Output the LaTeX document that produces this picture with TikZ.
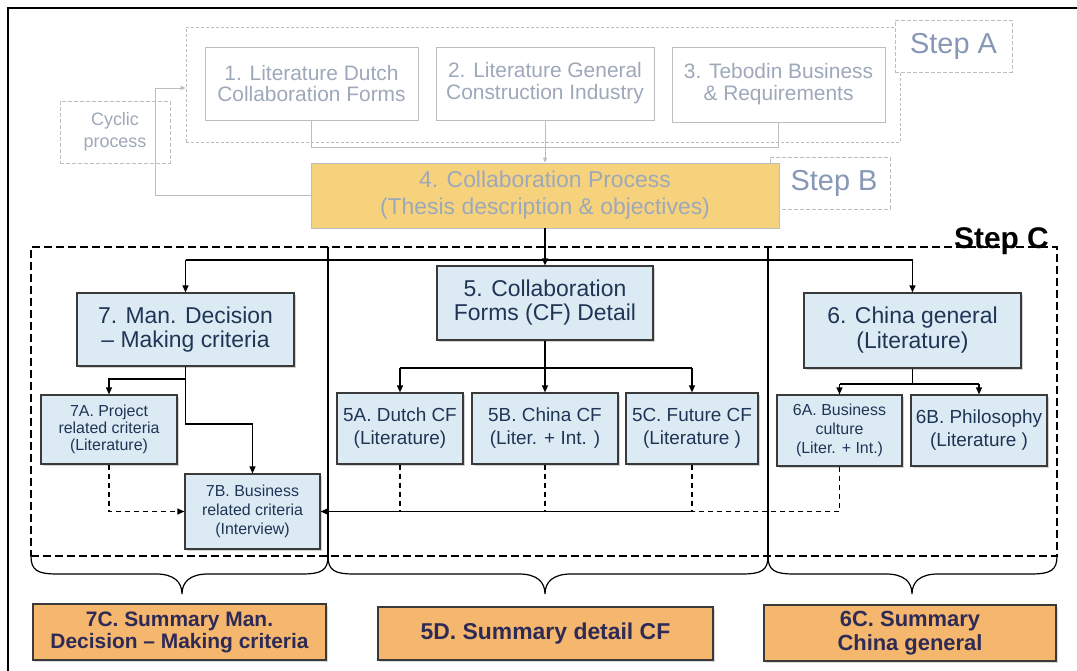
\documentclass[tikz,border=0pt]{standalone}
\usepackage{fontspec}
\setmainfont{Liberation Sans}
\usetikzlibrary{arrows.meta,shadows}

\definecolor{fadetext}{HTML}{9DA8BA}
\definecolor{fadeline}{HTML}{BDBDBD}
\definecolor{steptext}{HTML}{8797B5}
\definecolor{procfill}{HTML}{F6D27C}
\definecolor{bluefill}{HTML}{DCEAF4}
\definecolor{navytext}{HTML}{1F3556}
\definecolor{sumfill}{HTML}{F5B66E}
\definecolor{sumtext}{HTML}{2D2A55}
\definecolor{boxline}{HTML}{3A3A3A}

\tikzset{
  fs/.style n args={2}{font=\fontsize{#1}{#2}\selectfont},
  bfs/.style n args={2}{font=\fontsize{#1}{#2}\selectfont\bfseries},
  plainbox/.style={rectangle, inner sep=0pt, align=center},
  fadedbox/.style={plainbox, draw=fadeline, line width=0.7bp, fill=white, text=fadetext},
  groupbox/.style={plainbox, draw=fadeline, line width=0.7bp, dash pattern=on 3bp off 2bp},
  steplabel/.style={plainbox, draw=fadeline, line width=0.7bp, dash pattern=on 4bp off 2bp, fill=white, text=steptext, fs={29}{30}},
  procbox/.style={plainbox, draw=fadeline, line width=0.7bp, fill=procfill, text=fadetext},
  bluebox/.style={plainbox, draw=boxline, line width=1.2bp, fill=bluefill, text=navytext,
    drop shadow={opacity=0.35, shadow xshift=1.8bp, shadow yshift=-1.8bp}},
  sumbox/.style={plainbox, draw=boxline, line width=1.2bp, fill=sumfill, text=sumtext,
    drop shadow={opacity=0.3, shadow xshift=1.5bp, shadow yshift=-1.5bp}},
  faintlink/.style={draw=fadeline, line width=0.8bp},
  faintarrow/.style={faintlink, -{Triangle[length=5bp,width=4bp]}},
  link/.style={draw=black, line width=1.2bp},
  linkarrow/.style={link, -{Triangle[length=7bp,width=6bp]}},
  dlink/.style={link, dash pattern=on 5bp off 4bp},
  dlinkarrow/.style={dlink, -{Triangle[length=7bp,width=6bp]}},
  stepcframe/.style={plainbox, draw=black, line width=1.2bp, dash pattern=on 8bp off 4bp},
  bracket/.style={draw=black, line width=1.2bp},
}

\begin{document}
\begin{tikzpicture}[x=1bp, y=-1bp]
\useasboundingbox (0,0) rectangle (1077,671);

% page frame (top and left rules)
\draw[line width=2bp] (8,671) -- (8,8) -- (1077,8);

% ---------- Step A ----------
\node[groupbox, minimum width=714bp, minimum height=115bp] (grpA) at (543,84.5) {};
\node[steplabel, minimum width=117bp, minimum height=52bp] (stepA) at (953.5,46) {Step A};
\node[fadedbox, fs={21}{22}, minimum width=213bp, minimum height=73bp] (b1) at (311.5,83.5)
  {1. Literature Dutch\\Collaboration Forms};
\node[fadedbox, fs={21}{22}, minimum width=218bp, minimum height=73bp] (b2) at (545,83.5)
  {2. Literature General\\Construction Industry};
\node[fadedbox, fs={21}{22}, minimum width=213bp, minimum height=75bp] (b3) at (778.5,84.5)
  {3. Tebodin Business\\\& Requirements};
\node[fadedbox, dash pattern=on 4bp off 2bp, fs={18}{22}, minimum width=110bp, minimum height=62bp] (cyc) at (115,132)
  {Cyclic\\process};

% ---------- Step B ----------
\node[steplabel, minimum width=120bp, minimum height=52bp] (stepB) at (830,183) {\hspace*{8bp}Step B};
\node[procbox, fs={23}{27}, minimum width=468bp, minimum height=65bp] (b4) at (545,195.5)
  {4. Collaboration Process\\(Thesis description \& objectives)};

% links inside Step A and the feedback loop
\coordinate (colA) at (0,147);
\draw[faintlink] (b1.south) |- (b3.south |- colA) -- (b3.south);
\draw[faintarrow] (b2.south) -- (b4.north);
\coordinate (loop) at (155,88);
\draw[faintarrow] (b4.west) -| (loop) -- (loop -| grpA.west);

% ---------- Step C ----------
\node[stepcframe, minimum width=1026bp, minimum height=309bp] (grpC) at (544,401.5) {};
\node[anchor=base east, inner sep=0pt, bfs={30}{30}] (stepC) at (1049,248) {Step C};

% column dividers
\coordinate (d1t) at (328,247); \coordinate (d1b) at (328,563);
\coordinate (d2t) at (768,247); \coordinate (d2b) at (768,563);
\draw[link] (d1t) -- (d1b);
\draw[link] (d2t) -- (d2b);

% main boxes
\node[bluebox, fs={23}{24}, minimum width=217bp, minimum height=73bp] (b7) at (185.5,329.5)
  {7. Man. Decision\\– Making criteria};
\node[bluebox, fs={23}{24}, minimum width=216bp, minimum height=74bp] (b5) at (545,303)
  {5. Collaboration\\Forms (CF) Detail};
\node[bluebox, fs={23}{25}, minimum width=217bp, minimum height=75bp] (b6) at (912.5,330.5)
  {6. China general\\(Literature)};

% sub boxes
\node[bluebox, fs={16}{17}, minimum width=136bp, minimum height=69bp] (b7a) at (109,429.5)
  {7A. Project\\related criteria\\(Literature)};
\node[bluebox, fs={16}{19}, minimum width=135bp, minimum height=75bp] (b7b) at (252.5,511.5)
  {7B. Business\\related criteria\\(Interview)};
\node[bluebox, fs={19}{23}, minimum width=126bp, minimum height=71bp] (b5a) at (400,428.5)
  {5A. Dutch CF\\(Literature)};
\node[bluebox, fs={19}{23}, minimum width=146bp, minimum height=71bp] (b5b) at (545,428.5)
  {5B. China CF\\(Liter. + Int. )};
\node[bluebox, fs={19}{23}, minimum width=132bp, minimum height=71bp] (b5c) at (692,428.5)
  {5C. Future CF\\(Literature )};
\node[bluebox, fs={16}{19}, minimum width=125bp, minimum height=71bp] (b6a) at (839.5,430.5)
  {6A. Business\\culture\\(Liter. + Int.)};
\node[bluebox, fs={19}{23}, minimum width=136bp, minimum height=71bp] (b6b) at (979,430.5)
  {6B. Philosophy\\(Literature )};

% distribution from process box
\coordinate (hub) at (0,260);
\draw[linkarrow] (b4.south) -- (b5.north);
\draw[link] (b7.north |- hub) -- (b6.north |- hub);
\draw[linkarrow] (b7.north |- hub) -- (b7.north);
\draw[linkarrow] (b6.north |- hub) -- (b6.north);

% column 7
\coordinate (j7) at (0,379);
\coordinate (j7b) at (0,424);
\draw[linkarrow] (b7.south) |- (b7a.north |- j7) -- (b7a.north);
\draw[linkarrow] (b7.south) |- (b7b.north |- j7b) -- (b7b.north);
\draw[dlinkarrow] (b7a.south) |- (b7b.west);

% column 5
\coordinate (j5) at (0,368);
\draw[link] (b5.south) -- (b5.south |- j5);
\draw[link] (b5a.north |- j5) -- (b5c.north |- j5);
\draw[linkarrow] (b5a.north |- j5) -- (b5a.north);
\draw[linkarrow] (b5b.north |- j5) -- (b5b.north);
\draw[linkarrow] (b5c.north |- j5) -- (b5c.north);

% column 6
\coordinate (j6) at (0,384);
\draw[link] (b6.south) -- (b6.south |- j6);
\draw[link] (b6a.north |- j6) -- (b6b.north |- j6);
\draw[linkarrow] (b6a.north |- j6) -- (b6a.north);
\draw[linkarrow] (b6b.north |- j6) -- (b6b.north);

% feedback into 7B
\coordinate (jl) at (0,511.5);
\draw[dlink] (b5a.south) -- (b5a.south |- jl);
\draw[dlink] (b5b.south) -- (b5b.south |- jl);
\draw[dlink] (b5c.south) -- (b5c.south |- jl);
\draw[linkarrow] (b5c.south |- jl) -- (b7b.east);
\draw[dlink] (b6a.south) |- (b5c.south |- jl);

% curly brackets under each column
\foreach \a/\t/\b in {31/182/328, 328/545/768, 768/912/1057}{
  \draw[bracket] (\a,556) .. controls (\a,570) and (\a+6,574) .. (\a+26,574)
    -- (\t-26,574) .. controls (\t-8,574) and (\t,582) .. (\t,594)
    .. controls (\t,582) and (\t+8,574) .. (\t+26,574)
    -- (\b-26,574) .. controls (\b-6,574) and (\b,570) .. (\b,556);
}

% summaries
\node[sumbox, bfs={21}{22}, minimum width=293bp, minimum height=56bp] (s7) at (179.5,632)
  {7C. Summary Man.\\Decision – Making criteria};
\node[sumbox, bfs={23}{24}, minimum width=335bp, minimum height=53bp] (s5) at (545.5,633.5)
  {5D. Summary detail CF};
\node[sumbox, bfs={22}{24}, minimum width=292bp, minimum height=56bp] (s6) at (910,633)
  {6C. Summary\\China general};
\end{tikzpicture}
\end{document}
